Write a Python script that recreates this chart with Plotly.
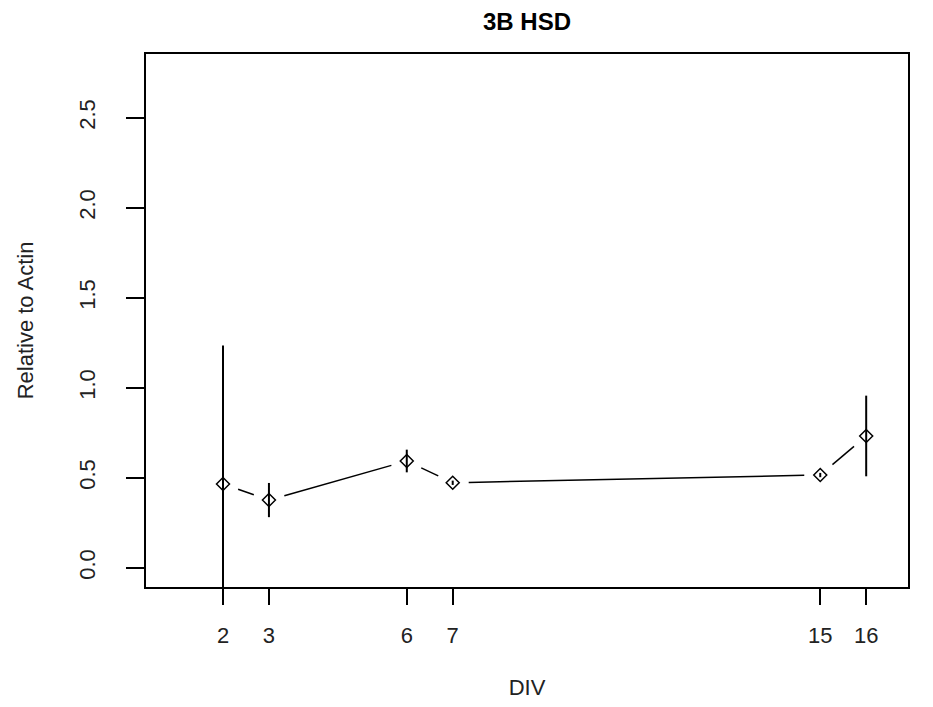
import math
import plotly.graph_objects as go

# ---- data ----
div = [2, 3, 6, 7, 15, 16]
rel_actin = [0.465, 0.376, 0.593, 0.472, 0.515, 0.732]
err = [0.77, 0.095, 0.063, 0.012, 0.012, 0.224]
x_ticks = [2, 3, 6, 7, 15, 16]
y_ticks = [0.0, 0.5, 1.0, 1.5, 2.0, 2.5]
title = "3B HSD"
x_title = "DIV"
y_title = "Relative to Actin"

# ---- layout geometry ----
W, H = 933, 707
ML, MR, MT, MB = 146, 25, 54, 120
x_range = [0.324, 16.91]
y_range = [-0.107, 2.854]
FONT = "Liberation Sans, Arial, sans-serif"

plot_w = W - ML - MR
plot_h = H - MT - MB
sx = plot_w / (x_range[1] - x_range[0])
sy = plot_h / (y_range[1] - y_range[0])

# R type="b" style: segments with gaps around points
gap = 16
seg_x, seg_y = [], []
for i in range(len(div) - 1):
    x1, y1, x2, y2 = div[i], rel_actin[i], div[i + 1], rel_actin[i + 1]
    dxp, dyp = (x2 - x1) * sx, (y2 - y1) * sy
    L = math.hypot(dxp, dyp)
    if L <= 2 * gap:
        continue
    f = gap / L
    seg_x += [x1 + f * (x2 - x1), x2 - f * (x2 - x1), None]
    seg_y += [y1 + f * (y2 - y1), y2 - f * (y2 - y1), None]

fig = go.Figure()
fig.add_trace(go.Scatter(
    x=seg_x, y=seg_y, mode="lines",
    line=dict(color="black", width=1.5),
    hoverinfo="skip", showlegend=False,
))
fig.add_trace(go.Scatter(
    x=div, y=rel_actin, mode="markers",
    marker=dict(symbol="diamond-open", size=10, color="black",
                line=dict(color="black", width=1.5)),
    error_y=dict(type="data", array=err, symmetric=True, width=0,
                 thickness=2, color="black"),
    showlegend=False,
))

fig.update_layout(
    width=W, height=H,
    margin=dict(l=ML, r=MR, t=MT, b=MB, pad=0),
    paper_bgcolor="white", plot_bgcolor="white",
    font=dict(family=FONT, size=22, color="#222222"),
    title=dict(text="<b>" + title + "</b>", x=(ML + plot_w / 2) / W, xanchor="center",
               y=1 - 22 / H, yanchor="middle",
               font=dict(family=FONT, size=24, color="black")),
    showlegend=False,
)
fig.update_xaxes(
    range=x_range, tickmode="array", tickvals=x_ticks,
    ticktext=[str(v) for v in x_ticks],
    ticks="outside", ticklen=16, tickwidth=1.5, tickcolor="black",
    showline=True, linecolor="black", linewidth=2, mirror=True,
    showgrid=False, zeroline=False, ticklabelstandoff=12,
    tickfont=dict(size=22),
    title=dict(text=x_title, standoff=32, font=dict(size=22)),
)
fig.update_yaxes(
    range=y_range, tickmode="array", tickvals=y_ticks,
    ticktext=[f"{v:.1f}" for v in y_ticks], tickangle=-90,
    ticks="outside", ticklen=18, tickwidth=1.5, tickcolor="black",
    showline=True, linecolor="black", linewidth=2, mirror=True,
    showgrid=False, zeroline=False, ticklabelstandoff=22,
    tickfont=dict(size=22),
    title=dict(text=y_title, standoff=36, font=dict(size=22)),
)

fig.write_html("out.html")
